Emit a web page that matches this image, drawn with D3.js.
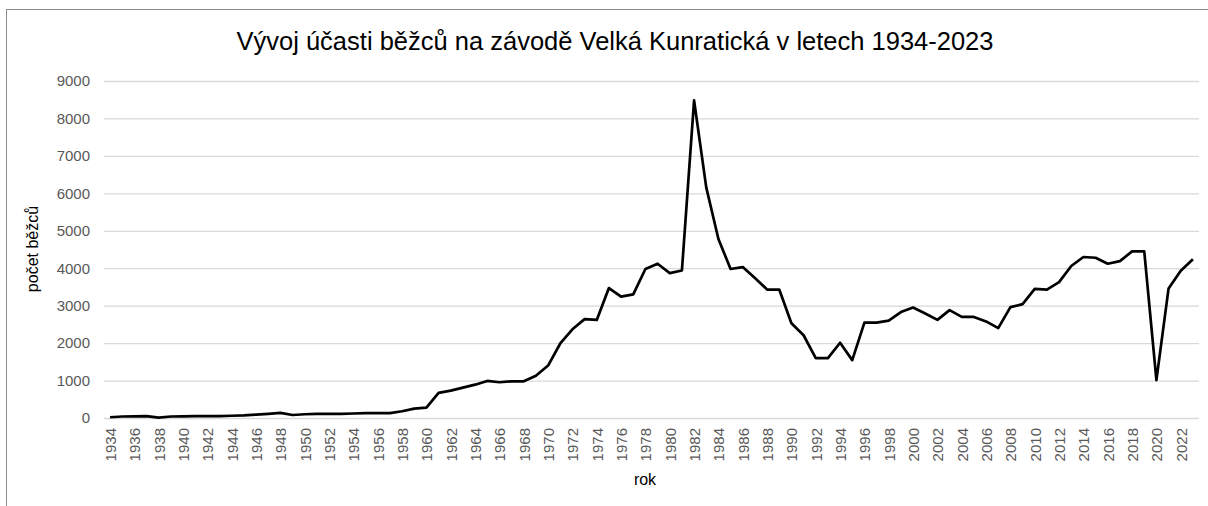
<!DOCTYPE html>
<html lang="cs">
<head>
  <meta charset="utf-8">
  <title>Velká Kunratická</title>
  <script src="https://d3js.org/d3.v7.js"></script>
  <style>
    body { margin: 0; background: #fff; }
    text { font-family: "Liberation Sans", Arial, sans-serif; }
  </style>
</head>
<body>
  <div id="my_dataviz"></div>

  <script>
    // years on the x axis
    var years = d3.range(1934, 2024);

    // number of runners per year
    var runners = [
      20, 40, 45, 50, 10, 40, 45, 50, 50, 50,        // 1934-1943
      60, 70, 90, 110, 135, 80, 100, 110, 110, 110,   // 1944-1953
      120, 130, 130, 130, 180, 250, 275, 670, 730, 810, // 1954-1963
      890, 990, 955, 980, 980, 1130, 1400, 1990, 2370, 2640, // 1964-1973
      2620, 3470, 3240, 3300, 3980, 4120, 3870, 3940, 8480, 6160, // 1974-1983
      4780, 3980, 4030, 3740, 3430, 3430, 2530, 2210, 1600, 1600, // 1984-1993
      2010, 1545, 2545, 2545, 2600, 2830, 2950, 2790, 2620, 2880, // 1994-2003
      2700, 2700, 2580, 2400, 2960, 3040, 3450, 3430, 3630, 4060, // 2004-2013
      4300, 4280, 4120, 4190, 4450, 4450, 1010, 3460, 3930, 4240  // 2014-2023
    ];

    var yTicks = [0, 1000, 2000, 3000, 4000, 5000, 6000, 7000, 8000, 9000];
    var xTickYears = years.filter(function(d) { return (d - 1934) % 2 === 0; });

    var data = years.map(function(y, i) { return {year: y, value: runners[i]}; });

    var W = 1208, H = 506;
    var plot = {left: 104, right: 1199, top: 81, bottom: 418};

    var svg = d3.select("#my_dataviz")
      .append("svg")
      .attr("width", W)
      .attr("height", H);

    // chart area border
    svg.append("rect")
      .attr("x", 6.5).attr("y", 9.5)
      .attr("width", W).attr("height", H)
      .attr("fill", "none")
      .attr("stroke", "#8c8c8c");

    var x = d3.scalePoint()
      .domain(years)
      .range([plot.left, plot.right])
      .padding(0.5);

    var y = d3.scaleLinear()
      .domain([0, 9000])
      .range([plot.bottom, plot.top]);

    // horizontal gridlines + y labels
    var yAxis = svg.append("g")
      .attr("transform", "translate(" + plot.left + ",0)")
      .call(d3.axisLeft(y)
        .tickValues(yTicks)
        .tickSize(-(plot.right - plot.left))
        .tickPadding(14)
        .tickFormat(d3.format("d")));
    yAxis.select(".domain").remove();
    yAxis.selectAll(".tick line")
      .attr("stroke", "#d9d9d9")
      .attr("stroke-width", 1.3);
    yAxis.selectAll(".tick text")
      .attr("fill", "#595959")
      .style("font-size", "15px");

    // x labels (every second year, rotated)
    var xAxis = svg.append("g")
      .attr("transform", "translate(0," + plot.bottom + ")")
      .call(d3.axisBottom(x).tickValues(xTickYears).tickSize(0));
    xAxis.select(".domain").remove();
    xAxis.selectAll(".tick text")
      .attr("fill", "#595959")
      .style("font-size", "15px")
      .attr("text-anchor", "end")
      .attr("transform", "rotate(-90)")
      .attr("x", -10)
      .attr("y", 0)
      .attr("dy", "0.35em");

    // the line
    var line = d3.line()
      .x(function(d) { return x(d.year); })
      .y(function(d) { return y(d.value); });

    svg.append("path")
      .datum(data)
      .attr("fill", "none")
      .attr("stroke", "#000")
      .attr("stroke-width", 2.7)
      .attr("stroke-linejoin", "round")
      .attr("d", line);

    // title
    svg.append("text")
      .attr("x", 615)
      .attr("y", 50)
      .attr("text-anchor", "middle")
      .style("font-size", "25.5px")
      .attr("fill", "#000")
      .text("Vývoj účasti běžců na závodě Velká Kunratická v letech 1934-2023");

    // axis titles
    svg.append("text")
      .attr("transform", "translate(38,249) rotate(-90)")
      .attr("text-anchor", "middle")
      .style("font-size", "16px")
      .text("počet běžců");

    svg.append("text")
      .attr("x", 645)
      .attr("y", 485)
      .attr("text-anchor", "middle")
      .style("font-size", "16px")
      .text("rok");
  </script>
</body>
</html>
